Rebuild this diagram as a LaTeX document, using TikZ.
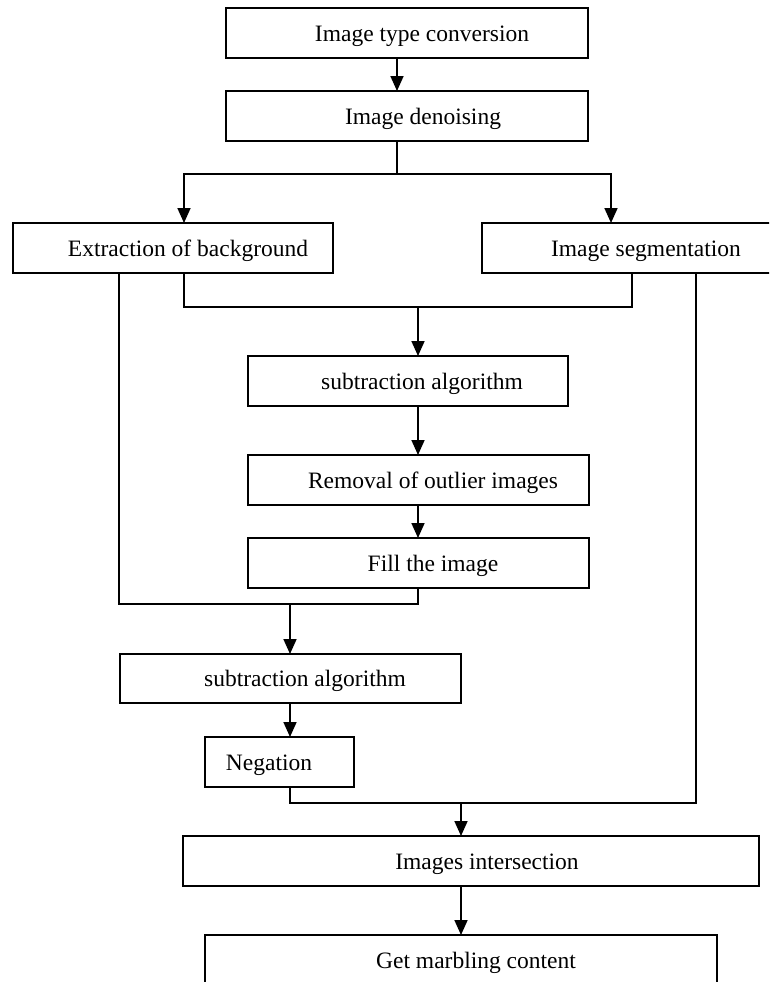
\documentclass[tikz,border=0pt]{standalone}
\usepackage{fontspec}
\setmainfont{Liberation Serif}
\usetikzlibrary{arrows.meta}
\begin{document}
\begin{tikzpicture}[x=1pt,y=-1pt,
  box/.style={draw, line width=1.7pt, inner sep=0pt, outer sep=0pt},
  lbl/.style={anchor=base, inner sep=0pt, font=\fontsize{23.5}{28}\selectfont},
  conn/.style={line width=1.7pt},
  arr/.style={line width=1.7pt, -{Triangle[length=15pt,width=13pt]}}]
\clip (0,0) rectangle (769,982);
\fill[white] (0,0) rectangle (769,982);
% boxes
\node[box, minimum width=362pt, minimum height=50pt] (b1) at (407,33) {};
\node[box, minimum width=362pt, minimum height=50pt] (b2) at (407,116) {};
\node[box, minimum width=320pt, minimum height=50pt] (b3) at (173,248) {};
\node[box, minimum width=308pt, minimum height=50pt] (b4) at (636,248) {};
\node[box, minimum width=320pt, minimum height=50pt] (b5) at (408,381) {};
\node[box, minimum width=341pt, minimum height=50pt] (b6) at (418.5,480) {};
\node[box, minimum width=341pt, minimum height=50pt] (b7) at (418.5,563) {};
\node[box, minimum width=341pt, minimum height=49pt] (b8) at (290.5,678.5) {};
\node[box, minimum width=149pt, minimum height=50pt] (b9) at (279.5,762) {};
\node[box, minimum width=576pt, minimum height=50pt] (b10) at (471,861) {};
\node[box, minimum width=512pt, minimum height=65pt] (b11) at (461,967.5) {};
% labels
\node[lbl] (t1) at (422,41.5) {Image type conversion};
\node[lbl] (t2) at (423,124.5) {Image denoising};
\node[lbl] (t3) at (188,256.5) {Extraction of background};
\node[lbl] (t4) at (646,256.5) {Image segmentation};
\node[lbl] (t5) at (422,389.5) {subtraction algorithm};
\node[lbl] (t6) at (433,488.5) {Removal of outlier images};
\node[lbl] (t7) at (433,571.5) {Fill the image};
\node[lbl] (t8) at (305,686.5) {subtraction algorithm};
\node[lbl] (t9) at (269,770.5) {Negation};
\node[lbl] (t10) at (487,869.5) {Images intersection};
\node[lbl] (t11) at (476,968.5) {Get marbling content};
% vertical guide coordinates
\coordinate (xa) at (397,0);
\coordinate (xl) at (184,0);
\coordinate (xr) at (611,0);
\coordinate (xll) at (119,0);
\coordinate (xs) at (632,0);
\coordinate (xrr) at (696,0);
\coordinate (xm) at (418,0);
\coordinate (xn) at (290,0);
\coordinate (xi) at (461,0);
\coordinate (j1) at (0,174);
\coordinate (j2) at (0,307);
\coordinate (j3) at (0,604);
\coordinate (j4) at (0,803);
% connectors
\draw[arr] (b1.south -| xa) -- (b2.north -| xa);
\draw[conn] (b2.south -| xa) -- (xa |- j1);
\draw[arr] (xa |- j1) -| (b3.north -| xl);
\draw[arr] (xa |- j1) -| (b4.north -| xr);
\draw[conn] (b3.south -| xl) |- (xm |- j2) -| (b4.south -| xs);
\draw[arr] (xm |- j2) -- (b5.north -| xm);
\draw[arr] (b5.south -| xm) -- (b6.north -| xm);
\draw[arr] (b6.south -| xm) -- (b7.north -| xm);
\draw[conn] (b3.south -| xll) |- (xn |- j3) -| (b7.south -| xm);
\draw[arr] (xn |- j3) -- (b8.north -| xn);
\draw[arr] (b8.south -| xn) -- (b9.north -| xn);
\draw[conn] (b9.south -| xn) |- (xi |- j4) -| (b4.south -| xrr);
\draw[arr] (xi |- j4) -- (b10.north -| xi);
\draw[arr] (b10.south -| xi) -- (b11.north -| xi);
\end{tikzpicture}
\end{document}
